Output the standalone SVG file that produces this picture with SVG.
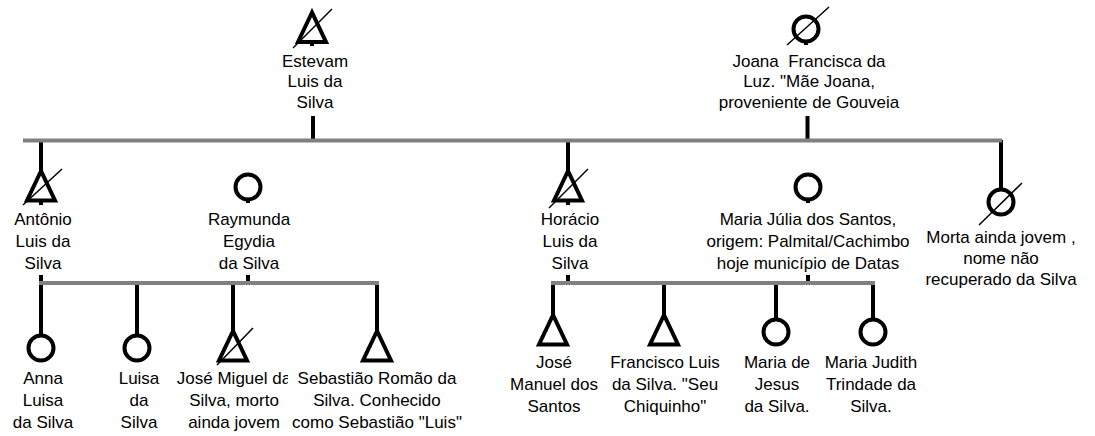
<svg xmlns="http://www.w3.org/2000/svg" width="1095" height="436" viewBox="0 0 1095 436">
<style>
.sym{fill:none;stroke:#000;stroke-width:4;stroke-linejoin:miter}
.cir{fill:none;stroke:#000;stroke-width:4}
.ln{stroke:#000;stroke-width:4;fill:none}
.bar{stroke:#808080;stroke-width:4;fill:none}
.dead{stroke:#000;stroke-width:1.5}
text{font-family:"Liberation Sans",Arial,sans-serif;font-size:17px;fill:#000;text-anchor:middle}
</style>
<defs>
<path id="tri" class="sym" d="M0,0 L-14,29.5 L14,29.5 Z"/>
<circle id="cir" class="cir" r="12.5"/>
<clipPath id="clipJM"><rect x="150" y="360" width="138" height="80"/></clipPath>
</defs>
<rect width="1095" height="436" fill="#fff"/>
<g id="connectors">
<line class="ln" x1="313" y1="116" x2="313" y2="140"/>
<line class="ln" x1="807.5" y1="116" x2="807.5" y2="140"/>
<line class="ln" x1="41" y1="140" x2="41" y2="171"/>
<line class="ln" x1="568" y1="140" x2="568" y2="171"/>
<line class="ln" x1="1001" y1="140" x2="1001" y2="190"/>
<line class="ln" x1="41" y1="275" x2="41" y2="336"/>
<line class="ln" x1="248" y1="275" x2="248" y2="283"/>
<line class="ln" x1="137" y1="283" x2="137" y2="336"/>
<line class="ln" x1="233" y1="283" x2="233" y2="331"/>
<line class="ln" x1="377" y1="283" x2="377" y2="331"/>
<line class="ln" x1="568" y1="275" x2="568" y2="283"/>
<line class="ln" x1="808" y1="275" x2="808" y2="283"/>
<line class="ln" x1="553" y1="283" x2="553" y2="315"/>
<line class="ln" x1="664" y1="283" x2="664" y2="315"/>
<line class="ln" x1="776" y1="283" x2="776" y2="320"/>
<line class="ln" x1="873" y1="283" x2="873" y2="320"/>
<path class="bar" d="M23,140.5 H1002"/>
<path class="bar" d="M39,283 H379"/>
<path class="bar" d="M551,283 H875"/>
</g>
<g id="estevam">
<use href="#tri" x="312" y="12.5"/>
<line class="ln" x1="312" y1="42" x2="312" y2="46"/>
<line class="dead" x1="293" y1="48" x2="332" y2="9"/>
<text x="315" y="66.5">Estevam</text>
<text x="315" y="87">Luis da</text>
<text x="315" y="107.5">Silva</text>
</g>
<g id="joana">
<use href="#cir" x="806" y="29"/>
<line class="ln" x1="806" y1="41" x2="806" y2="45"/>
<line class="dead" x1="787" y1="45" x2="829" y2="7"/>
<text x="809" y="66.5" style="white-space:pre">Joana  Francisca da</text>
<text x="809" y="87">Luz. "Mãe Joana,</text>
<text x="809" y="107.5">proveniente de Gouveia</text>
</g>
<g id="antonio">
<use href="#tri" x="41" y="171"/>
<line class="ln" x1="41" y1="200.5" x2="41" y2="205"/>
<line class="dead" x1="23" y1="205" x2="62" y2="169"/>
<text x="43" y="225">Antônio</text>
<text x="43" y="247">Luis da</text>
<text x="43" y="269">Silva</text>
</g>
<g id="raymunda">
<use href="#cir" x="248" y="187"/>
<line class="ln" x1="248" y1="199" x2="248" y2="203"/>
<text x="249" y="225">Raymunda</text>
<text x="249" y="247">Egydia</text>
<text x="249" y="269">da Silva</text>
</g>
<g id="horacio">
<use href="#tri" x="568" y="171"/>
<line class="ln" x1="568" y1="200.5" x2="568" y2="205"/>
<line class="dead" x1="549" y1="208" x2="588" y2="169"/>
<text x="570" y="225">Horácio</text>
<text x="570" y="247">Luis da</text>
<text x="570" y="269">Silva</text>
</g>
<g id="maria-julia">
<use href="#cir" x="808" y="187"/>
<line class="ln" x1="808" y1="199" x2="808" y2="203"/>
<text x="808" y="225">Maria Júlia dos Santos,</text>
<text x="808" y="247">origem: Palmital/Cachimbo</text>
<text x="808" y="269">hoje município de Datas</text>
</g>
<g id="morta">
<use href="#cir" x="1001" y="202"/>
<line class="dead" x1="979" y1="225" x2="1022" y2="183"/>
<text x="1001" y="242.5">Morta ainda jovem ,</text>
<text x="1001" y="263.5">nome não</text>
<text x="1001" y="284.5">recuperado da Silva</text>
</g>
<g id="anna">
<use href="#cir" x="41" y="348"/>
<text x="43" y="384">Anna</text>
<text x="43" y="406">Luisa</text>
<text x="43" y="428">da Silva</text>
</g>
<g id="luisa">
<use href="#cir" x="137" y="348"/>
<text x="139" y="384">Luisa</text>
<text x="139" y="406">da</text>
<text x="139" y="428">Silva</text>
</g>
<g id="jose-miguel">
<use href="#tri" x="233" y="331"/>
<line class="dead" x1="217" y1="365" x2="253" y2="328"/>
<text x="234" y="384" clip-path="url(#clipJM)">José Miguel da</text>
<text x="234" y="406">Silva, morto</text>
<text x="234" y="428">ainda jovem</text>
</g>
<g id="sebastiao">
<use href="#tri" x="377" y="331"/>
<text x="377" y="384">Sebastião Romão da</text>
<text x="377" y="406">Silva. Conhecido</text>
<text x="377" y="428">como Sebastião "Luis"</text>
</g>
<g id="jose-manuel">
<use href="#tri" x="553" y="315"/>
<text x="554" y="368">José</text>
<text x="554" y="390">Manuel dos</text>
<text x="554" y="412">Santos</text>
</g>
<g id="francisco">
<use href="#tri" x="664" y="315"/>
<text x="665" y="368">Francisco Luis</text>
<text x="665" y="390">da Silva. "Seu</text>
<text x="665" y="412">Chiquinho"</text>
</g>
<g id="maria-jesus">
<use href="#cir" x="776" y="332"/>
<text x="777" y="368">Maria de</text>
<text x="777" y="390">Jesus</text>
<text x="777" y="412">da Silva.</text>
</g>
<g id="maria-judith">
<use href="#cir" x="873" y="332"/>
<text x="871" y="368">Maria Judith</text>
<text x="871" y="390">Trindade da</text>
<text x="871" y="412">Silva.</text>
</g>
</svg>
